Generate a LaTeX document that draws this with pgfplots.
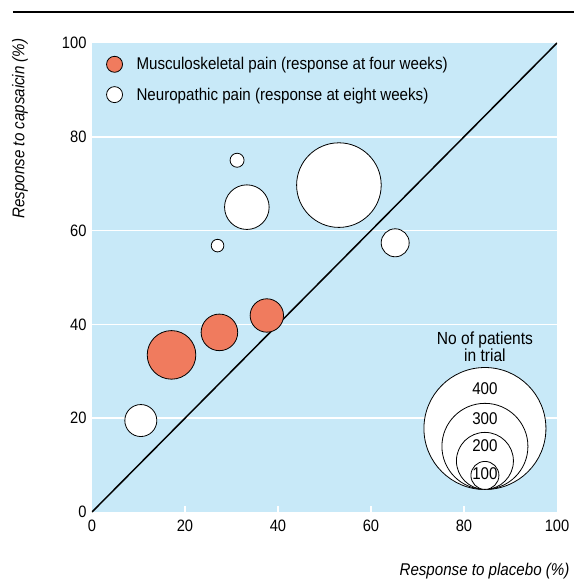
\documentclass[border=0pt]{standalone}
\usepackage{fontspec}
\setmainfont{Liberation Sans}[FakeStretch=0.89]
\usepackage{pgfplots}
\pgfplotsset{compat=1.18}
\definecolor{bgblue}{RGB}{200,233,248}
\definecolor{myorange}{RGB}{240,123,94}
\pgfplotstableread{
x y r
17.1 33.5 24.3
27.4 38.3 18.3
37.6 41.9 16.7
}\musculo
\pgfplotstableread{
x y r
10.5 19.5 16
27.0 56.8 6.3
31.2 75.0 7
33.3 65.0 22.3
53.1 69.7 42.3
65.2 57.4 14
}\neuro
\pgfplotstableread{
x y r
84.5 17.8 61
84.5 14.0 43
84.5 10.9 28.5
84.5 7.8 14
}\keysizes
\begin{document}
\begin{tikzpicture}
\path[use as bounding box] (-92pt,-67pt) rectangle (482pt,512pt);
\draw[line width=1.2pt] (-79pt,500pt) -- (482pt,500pt);
\begin{axis}[
  scale only axis, width=465pt, height=469pt,
  xmin=0, xmax=100, ymin=0, ymax=100,
  axis line style={draw=none},
  axis background/.style={fill=bgblue},
  xtick={20,40,60,80}, extra x ticks={0,100},
  extra x tick style={major tick length=0pt},
  ytick={20,40,60,80}, extra y ticks={0,100},
  extra y tick style={grid=none},
  ymajorgrids, grid style={white, line width=1.5pt},
  tick align=inside, major tick length=6pt, tick pos=left,
  xtick style={white, line width=1.5pt}, ytick style={draw=none},
  tick label style={black, font=\fontsize{16.5}{19}\selectfont},
  xticklabel style={yshift=-4pt},
  yticklabel style={xshift=-2pt},
  /pgf/number format/assume math mode=true,
  legend style={at={(axis cs:3.0,97.4)}, anchor=north west, draw=none, fill=none,
    font=\fontsize{17}{20}\selectfont, row sep=12.5pt, inner sep=0pt},
  legend cell align=left,
]
\addlegendimage{legend image code/.code={\draw[black, line width=0.8pt, fill=myorange] (0pt,0pt) circle (8pt); \path[draw=none] (-8pt,0pt) -- (20pt,0pt);}}
\addlegendentry{Musculoskeletal pain (response at four weeks)}
\addlegendimage{legend image code/.code={\draw[black, line width=0.8pt, fill=white] (0pt,0pt) circle (8pt); \path[draw=none] (-8pt,0pt) -- (20pt,0pt);}}
\addlegendentry{Neuropathic pain (response at eight weeks)}

\addplot[forget plot, scatter, only marks, mark=*, line width=0.8pt,
  scatter/use mapped color={draw=black, fill=myorange},
  visualization depends on={\thisrow{r}\as\rad},
  scatter/@pre marker code/.append style={/tikz/mark size=\rad pt}]
  table[x=x, y=y, meta=r] {\musculo};
\addplot[forget plot, scatter, only marks, mark=*, line width=0.8pt,
  scatter/use mapped color={draw=black, fill=white},
  visualization depends on={\thisrow{r}\as\rad},
  scatter/@pre marker code/.append style={/tikz/mark size=\rad pt}]
  table[x=x, y=y, meta=r] {\neuro};
\addplot[forget plot, scatter, only marks, mark=*, line width=0.8pt,
  scatter/use mapped color={draw=black, fill=white},
  visualization depends on={\thisrow{r}\as\rad},
  scatter/@pre marker code/.append style={/tikz/mark size=\rad pt}]
  table[x=x, y=y, meta=r] {\keysizes};
\addplot[forget plot, black, line width=1.5pt] coordinates {(0,0) (100,100)};

\coordinate (k400) at (axis cs:84.5,26.4);
\coordinate (k300) at (axis cs:84.5,20.0);
\coordinate (k200) at (axis cs:84.5,14.1);
\coordinate (k100) at (axis cs:84.5,8.1);
\coordinate (ktitle) at (axis cs:84.5,35.2);
\end{axis}
\node[font=\fontsize{17}{19}\selectfont] at (k400) {400};
\node[font=\fontsize{17}{19}\selectfont] at (k300) {300};
\node[font=\fontsize{17}{19}\selectfont] at (k200) {200};
\node[font=\fontsize{17}{19}\selectfont] at (k100) {100};
\node[align=center, font=\fontsize{17.5}{15}\selectfont] at (ktitle) {No of patients\\in trial};
\node[anchor=east, font=\itshape\fontsize{17}{20}\selectfont] at (481pt,-59pt) {Response to placebo (\%)};
\node[rotate=90, anchor=east, font=\itshape\fontsize{17}{20}\selectfont] at (-72pt,477pt) {Response to capsaicin (\%)};
\end{tikzpicture}
\end{document}
